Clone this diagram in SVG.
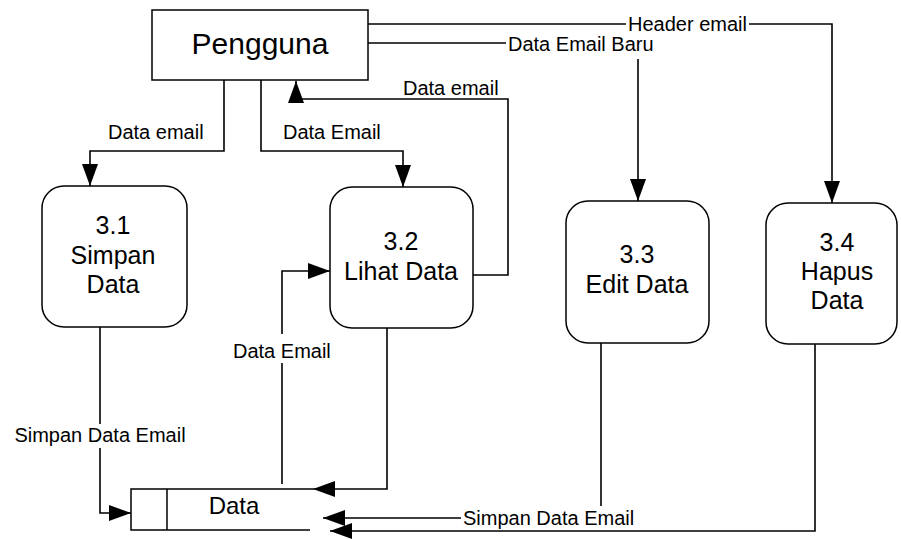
<svg xmlns="http://www.w3.org/2000/svg" width="901" height="539" viewBox="0 0 901 539">
<style>
text{font-family:"Liberation Sans",Arial,sans-serif;fill:#000}
.node{font-size:25px;text-anchor:middle}
.lbl{font-size:20px}
.box{fill:#fff;stroke:#000;stroke-width:1.5}
.wire{fill:none;stroke:#000;stroke-width:1.6;marker-end:url(#ah)}
.plain{fill:none;stroke:#000;stroke-width:1.5}
.bg{fill:#fff}
</style>
<defs>
<marker id="ah" markerUnits="userSpaceOnUse" markerWidth="22" markerHeight="16" refX="22" refY="8" orient="auto">
<path d="M0,0 L22,8 L0,16 z" fill="#000"/>
</marker>
</defs>
<rect width="901" height="539" fill="#fff"/>
<g id="connectors">
<path class="wire" d="M224,80 V151 H90 V186"/>
<path class="wire" d="M261,80 V151 H403 V187"/>
<path class="wire" d="M473,275 H508 V99 H296 V81"/>
<path class="wire" d="M368,43 H638 V201"/>
<path class="wire" d="M368,24 H832 V203"/>
<path class="wire" d="M100,327 V513 H131"/>
<path class="wire" d="M282,484 V271 H330"/>
<path class="wire" d="M387,328 V489 H313"/>
<path class="wire" d="M601,343 V518 H323"/>
<path class="wire" d="M815,344 V531 H330"/>
<rect class="bg" x="626" y="15" width="123" height="19"/>
<text class="lbl" x="628" y="31">Header email</text>
<rect class="bg" x="506" y="33" width="149" height="26"/>
<text class="lbl" x="508" y="51">Data Email Baru</text>
<text class="lbl" x="403" y="95">Data email</text>
<text class="lbl" x="108" y="139">Data email</text>
<text class="lbl" x="283" y="139">Data Email</text>
<rect class="bg" x="231" y="334" width="99" height="29"/>
<text class="lbl" x="233" y="358">Data Email</text>
<rect class="bg" x="12" y="424" width="177" height="24"/>
<text class="lbl" x="100" y="442" text-anchor="middle">Simpan Data Email</text>
<rect class="bg" x="461" y="506" width="177" height="22"/>
<text class="lbl" x="463" y="525">Simpan Data Email</text>
</g>
<g id="pengguna">
<rect class="box" x="152" y="10" width="216" height="70"/>
<text x="260" y="54" font-size="30" text-anchor="middle">Pengguna</text>
</g>
<g id="p31">
<rect class="box" x="42" y="186" width="145" height="141" rx="22"/>
<text class="node" x="113" y="234">3.1</text>
<text class="node" x="113" y="264">Simpan</text>
<text class="node" x="113" y="293">Data</text>
</g>
<g id="p32">
<rect class="box" x="330" y="187" width="143" height="141" rx="22"/>
<text class="node" x="401" y="250">3.2</text>
<text class="node" x="401" y="280">Lihat Data</text>
</g>
<g id="p33">
<rect class="box" x="566" y="201" width="143" height="142" rx="22"/>
<text class="node" x="637" y="263">3.3</text>
<text class="node" x="637" y="293">Edit Data</text>
</g>
<g id="p34">
<rect class="box" x="766" y="203" width="131" height="141" rx="22"/>
<text class="node" x="837" y="251">3.4</text>
<text class="node" x="837" y="280">Hapus</text>
<text class="node" x="837" y="309">Data</text>
</g>
<g id="datastore">
<path class="plain" d="M313,489 H131 V530 H310 M167,489 V530"/>
<text x="234" y="514" font-size="24" text-anchor="middle">Data</text>
</g>
</svg>
